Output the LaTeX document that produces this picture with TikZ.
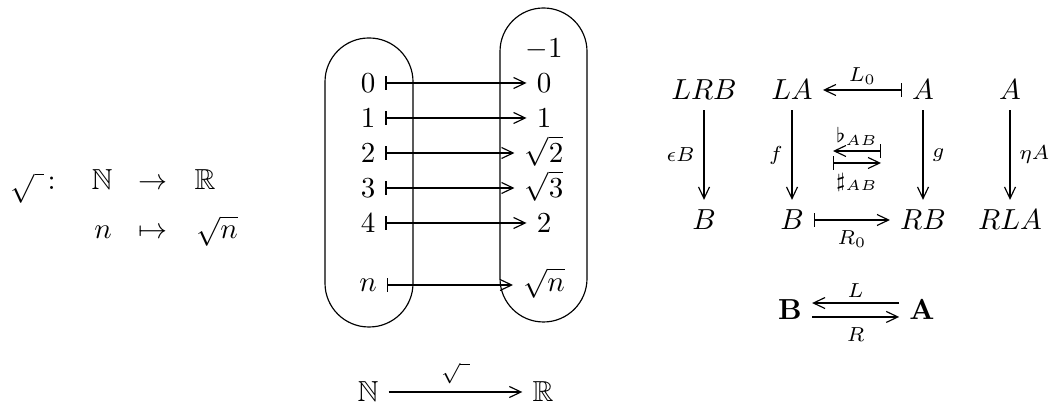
\documentclass[tikz,border=0pt]{standalone}
\usepackage{amsmath,amssymb}
\usetikzlibrary{arrows.meta}
\begin{document}
\begin{tikzpicture}[x=0.345pt,y=-0.345pt,
  cmto/.style={-{Straight Barb[length=4pt,width=3.8pt]}},
  mapsto/.style={{Bar[width=4.6pt]}-{Straight Barb[length=4pt,width=3.8pt]}},
  mcell/.style={text height=7pt,text depth=0.6pt,inner xsep=3.33pt,inner ysep=1pt},
  ncell/.style={text height=4.3pt,text depth=0pt,inner xsep=3.33pt,inner ysep=1pt},
  rcell/.style={text height=6.83pt,text depth=0pt,inner sep=3.33pt},
  labA/.style={above,inner sep=1.8pt},
  labB/.style={below,inner sep=3.4pt},
  labL/.style={left,inner sep=3pt},
  labR/.style={right,inner sep=3pt}]
\useasboundingbox (0,0) rectangle (1049,408);

% left formula
\node[anchor=base west,inner sep=0pt] (sq) at (10,190) {$\sqrt{\ }\colon$};
\node[anchor=base] (nn) at (102,190) {$\mathbb{N}$};
\node[anchor=base] (ar1) at (153,190) {$\to$};
\node[anchor=base] (rr) at (205,190) {$\mathbb{R}$};
\node[anchor=base] (n2) at (103,239) {$n$};
\node[anchor=base] (ar2) at (153,239) {$\mapsto$};
\node[anchor=base] (sn) at (217,239) {$\sqrt{n}$};

% middle: ovals
\draw[rounded corners=15.1pt] (325,38) rectangle (413,327);
\draw[rounded corners=15pt] (500,8) rectangle (587,322);

\node[mcell] (l0) at (368,83) {$0$};
\node[mcell] (l1) at (368,118) {$1$};
\node[mcell] (l2) at (368,153) {$2$};
\node[mcell] (l3) at (368,188) {$3$};
\node[mcell] (l4) at (368,223) {$4$};
\node[ncell] (ln) at (368,285) {$n$};

\node[mcell] (rm) at (544,48) {$-1$};
\node[mcell] (r0) at (544,83) {$0$};
\node[mcell] (r1) at (544,118) {$1$};
\node[mcell] (r2) at (544,153) {$\sqrt{2}$};
\node[mcell] (r3) at (544,188) {$\sqrt{3}$};
\node[mcell] (r4) at (544,223) {$2$};
\node[ncell] (rn) at (544,285) {$\sqrt{n}$};

\draw[mapsto] (l0) -- (r0);
\draw[mapsto] (l1) -- (r1);
\draw[mapsto] (l2) -- (r2);
\draw[mapsto] (l3) -- (r3);
\draw[mapsto] (l4) -- (r4);
\draw[mapsto] (ln) -- (rn);

% middle bottom
\node (bn) at (368,392) {$\mathbb{N}$};
\node (br) at (543,392) {$\mathbb{R}$};
\draw[cmto] (bn) -- node[above,inner sep=2.6pt] {$\scriptstyle\sqrt{\ }$} (br);

% right diagram
\node[rcell] (lrb) at (704,90) {$LRB$};
\node[rcell] (b1) at (704,220) {$B$};
\node[rcell] (la) at (792,90) {$LA$};
\node[rcell] (b2) at (792,220) {$B$};
\node[rcell] (a1) at (923,90) {$A$};
\node[rcell] (rb) at (923,220) {$RB$};
\node[rcell] (a2) at (1010,90) {$A$};
\node[rcell] (rla) at (1010,220) {$RLA$};

\draw[cmto] (lrb) -- node[labL] {$\scriptstyle\epsilon B$} (b1);
\draw[cmto] (la) -- node[labL] {$\scriptstyle f$} (b2);
\draw[mapsto] (a1) -- node[labA] {$\scriptstyle L_0$} (la);
\draw[cmto] (a1) -- node[labR] {$\scriptstyle g$} (rb);
\draw[mapsto] (b2) -- node[labB] {$\scriptstyle R_0$} (rb);
\draw[cmto] (a2) -- node[labR] {$\scriptstyle\eta A$} (rla);

\coordinate (f1) at (881,151);
\coordinate (f2) at (833,151);
\coordinate (s1) at (833,163);
\coordinate (s2) at (881,163);
\draw[mapsto] (f1) -- node[labA] {$\scriptstyle\flat_{AB}$} (f2);
\draw[mapsto] (s1) -- node[labB] {$\scriptstyle\sharp_{AB}$} (s2);

% adjunction
\node (bb) at (790,310) {$\mathbf{B}$};
\node (aa) at (922,310) {$\mathbf{A}$};
\draw[cmto] ([yshift=2.4pt]aa.west) -- node[labA] {$\scriptstyle L$} ([yshift=2.4pt]bb.east);
\draw[cmto] ([yshift=-2.4pt]bb.east) -- node[labB] {$\scriptstyle R$} ([yshift=-2.4pt]aa.west);
\end{tikzpicture}
\end{document}
